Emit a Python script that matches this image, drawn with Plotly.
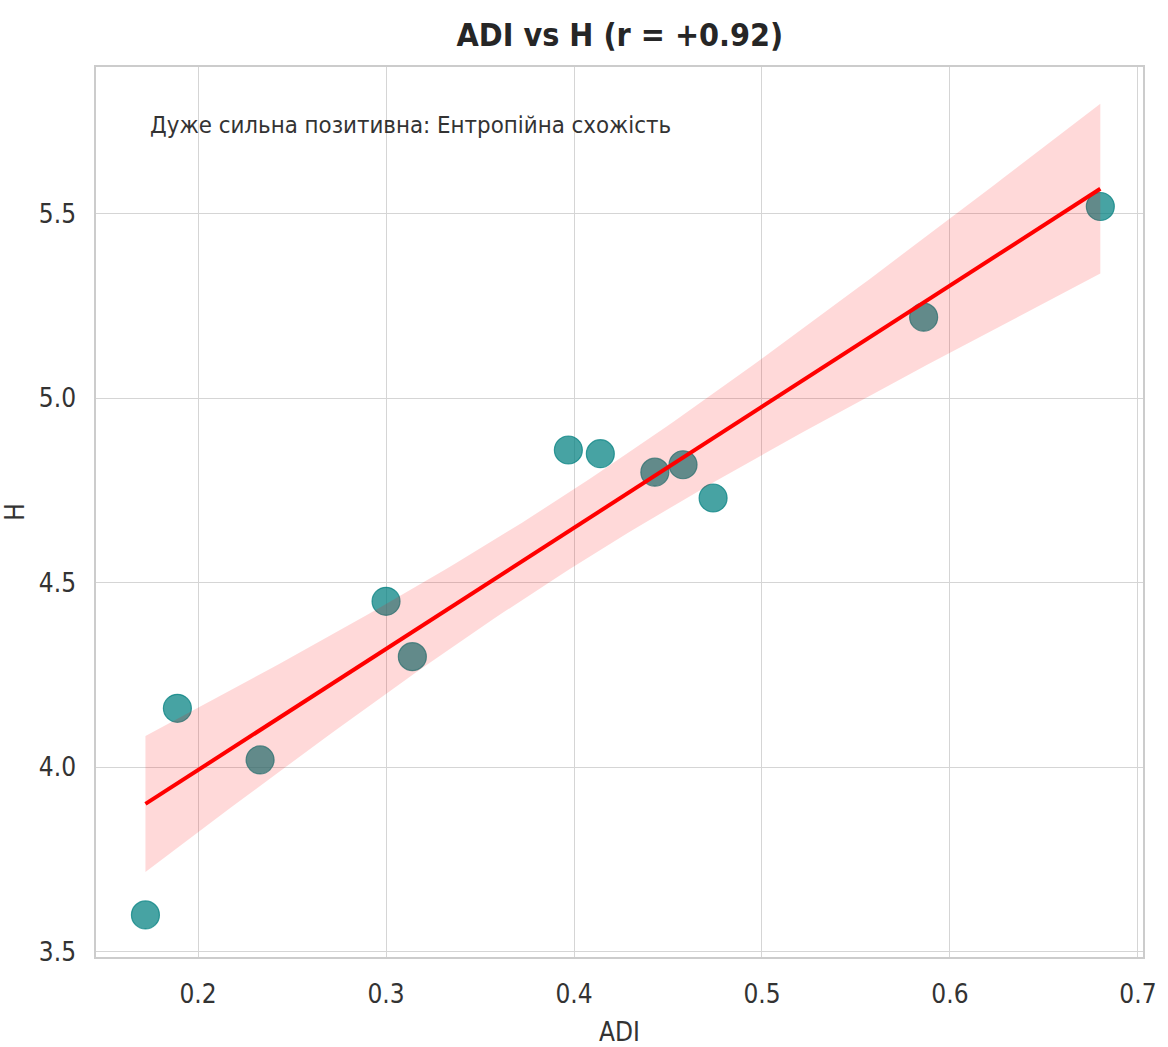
import numpy as np
import plotly.graph_objects as go

# Data
adi = [0.172, 0.189, 0.233, 0.300, 0.314, 0.397, 0.414, 0.443, 0.458, 0.474, 0.586, 0.680]
h = [3.60, 4.16, 4.02, 4.45, 4.30, 4.86, 4.85, 4.80, 4.82, 4.73, 5.22, 5.52]
title_text = "ADI vs H (r = +0.92)"
note_text = "Дуже сильна позитивна: Ентропійна схожість"
x_ticks = [0.2, 0.3, 0.4, 0.5, 0.6, 0.7]
y_ticks = [3.5, 4.0, 4.5, 5.0, 5.5]

FONT = "DejaVu Sans Condensed, DejaVu Sans"

x = np.array(adi)
y = np.array(h)
n = len(x)
slope, intercept = np.polyfit(x, y, 1)
xg = np.linspace(x.min(), x.max(), 100)
yg = intercept + slope * xg
resid = y - (intercept + slope * x)
s = np.sqrt(np.sum(resid ** 2) / (n - 2))
sxx = np.sum((x - x.mean()) ** 2)
tval = 2.228  # t(0.975, df=10)
se = s * np.sqrt(1.0 / n + (xg - x.mean()) ** 2 / sxx)
upper = yg + tval * se
lower = yg - tval * se

fig = go.Figure()
fig.add_trace(go.Scatter(
    x=adi, y=h, mode="markers",
    marker=dict(size=28, color="rgba(0,128,128,0.72)",
                line=dict(color="rgba(0,128,128,0.72)", width=1.2)),
    hoverinfo="x+y", showlegend=False))
fig.add_trace(go.Scatter(
    x=np.concatenate([xg, xg[::-1]]), y=np.concatenate([upper, lower[::-1]]),
    fill="toself", fillcolor="rgba(255,0,0,0.15)", line=dict(width=0),
    mode="lines", hoverinfo="skip", showlegend=False))
fig.add_trace(go.Scatter(
    x=xg, y=yg, mode="lines", line=dict(color="#ff0000", width=4),
    hoverinfo="skip", showlegend=False))

axis_common = dict(
    showgrid=True, gridcolor="#d5d5d5", gridwidth=1.3,
    showline=True, linecolor="#cccccc", linewidth=1.5, mirror=True,
    zeroline=False, ticks="", automargin=False,
    tickfont=dict(family=FONT, size=26, color="#333333"),
)

fig.update_layout(
    width=1168, height=1047,
    paper_bgcolor="white", plot_bgcolor="white",
    margin=dict(l=96, r=25, t=67, b=90),
    title=dict(text=title_text, x=0.5307, xanchor="center", y=0.967, yanchor="middle",
               font=dict(family=FONT, size=32, color="#262626", weight="bold")),
    xaxis=dict(range=[0.1457, 0.7027], tickvals=x_ticks,
               ticktext=[f"{v:.1f}" for v in x_ticks],
               title=dict(text="ADI", font=dict(family=FONT, size=26, color="#333333"), standoff=16),
               ticklabelstandoff=13, **axis_common),
    yaxis=dict(range=[3.486, 5.898], tickvals=y_ticks,
               ticktext=[f"{v:.1f}" for v in y_ticks],
               title=dict(text="H", font=dict(family=FONT, size=26, color="#333333"), standoff=18),
               ticklabelstandoff=13, **axis_common),
    annotations=[dict(text=note_text, xref="paper", yref="paper", x=0.05, y=0.935,
                      xanchor="left", yanchor="middle", showarrow=False,
                      font=dict(family=FONT, size=23.8, color="#333333"))],
)

fig.write_html("out.html")
